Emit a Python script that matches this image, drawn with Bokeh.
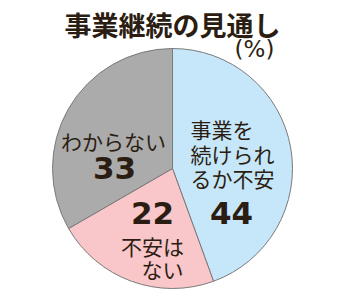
import math
from bokeh.plotting import figure
from bokeh.models import Range1d, ColumnDataSource
from bokeh.core.properties import value
from bokeh.embed import file_html
from bokeh.resources import INLINE

categories = ["事業を続けられるか不安", "不安はない", "わからない"]
values = [44, 22, 33]
colors = ["#c6e7f9", "#f9c6c9", "#ababab"]

W, H = 344, 297
p = figure(width=W, height=H, output_backend="svg", toolbar_location=None,
           x_range=Range1d(0, W), y_range=Range1d(0, H), min_border=0)
p.axis.visible = False
p.grid.visible = False
p.outline_line_color = None
p.background_fill_color = "white"
p.border_fill_color = "white"

total = sum(values)
starts, ends = [], []
cum = 0.0
for v in values:
    s = math.pi / 2 - 2 * math.pi * cum / total
    cum += v
    e = math.pi / 2 - 2 * math.pi * cum / total
    starts.append(s)
    ends.append(e)

cx, cy, r = 172, H - 168, 120
src = ColumnDataSource(dict(start=starts, end=ends, color=colors,
                            x=[cx] * 3, y=[cy] * 3))
p.wedge(x="x", y="y", radius=r, start_angle="start", end_angle="end",
        direction="clock", fill_color="color", line_color="#7a7a7a",
        line_width=1, source=src)

jp = value("Noto Sans CJK JP")
num = value("DejaVu Sans")
tc = "#2b1d12"

def txt(x, y, s, size, bold=False, align="center", font=jp):
    p.text(x=[x], y=[H - y], text=[s], text_font=font,
           text_font_size=f"{size}px", text_font_style="bold" if bold else "normal",
           text_color=tc, text_align=align, text_baseline="middle")

txt(172, 24, "事業継続の見通し", 27, bold=True)
txt(254, 48, "(%)", 23, font=num)

txt(190, 128, "事業を", 21, align="left")
txt(190, 153, "続けられ", 21, align="left")
txt(190, 177, "るか不安", 21, align="left")
txt(231, 212, str(values[0]), 31, bold=True, font=num)

txt(113, 140, "わからない", 21)
txt(114, 167, str(values[2]), 31, bold=True, font=num)

txt(152, 212, str(values[1]), 31, bold=True, font=num)
txt(152, 245, "不安は", 21)
txt(162, 268, "ない", 21)

open("out.html", "w").write(file_html(p, INLINE))
